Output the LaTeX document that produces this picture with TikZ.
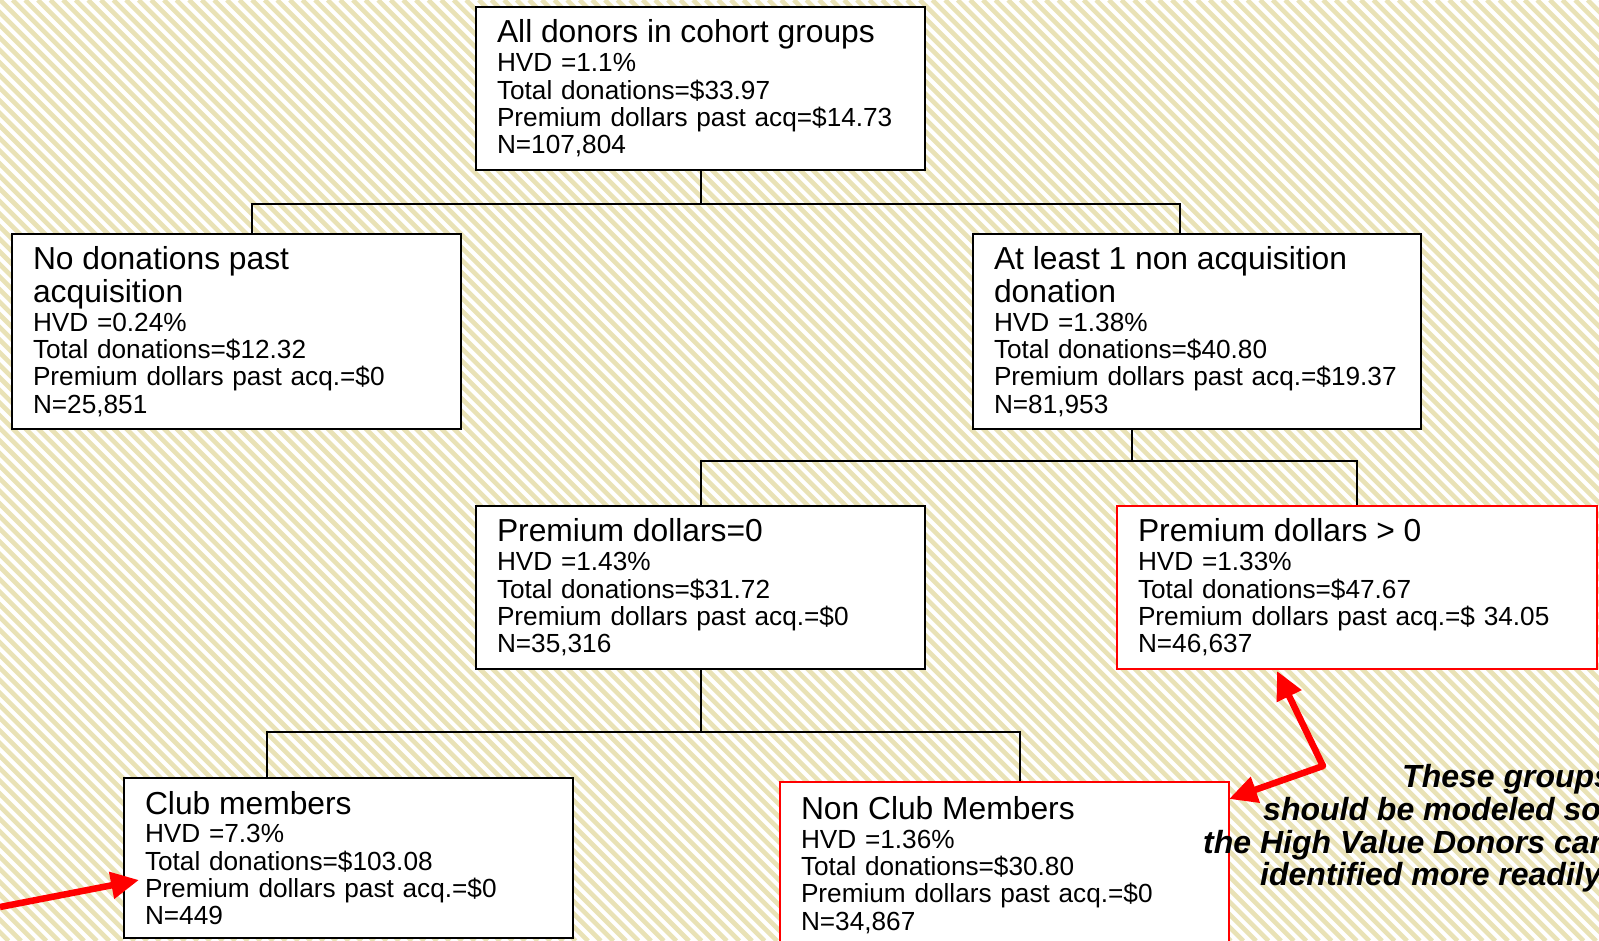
\documentclass[tikz,border=0pt]{standalone}
\usepackage{fontspec}
\setmainfont{Liberation Sans}
\usetikzlibrary{arrows.meta}
\definecolor{stripecol}{RGB}{233,226,182}
\newcommand\ttlfont{\fontsize{31.8}{33}\selectfont}
\newcommand\bdyfont{\fontsize{26.2}{27.3}\selectfont}
\begin{document}
\begin{tikzpicture}[x=1pt,y=-1pt,
  box/.style={draw=black, line width=2pt, fill=white, anchor=north west, align=left,
    inner xsep=21pt, inner ysep=0pt, font=\bdyfont},
  redbox/.style={box, draw=red},
  conn/.style={draw=black, line width=2pt},
  redarrow/.style={draw=red, line width=6.5pt, -{Triangle[length=28pt,width=26pt]}},
  hint/.style={anchor=base west, inner sep=0pt, font=\fontsize{32}{33}\selectfont\bfseries\itshape}
]
\useasboundingbox (0,0) rectangle (1599,941);
% background stripes
\begin{scope}
  \clip (0,0) rectangle (1599,941);
  \fill[white] (0,0) rectangle (1599,941);
  \foreach \i in {-76,...,128}
    \draw[stripecol, line width=4.6pt] (\i*12.6,0) -- (\i*12.6+941,941);
\end{scope}

% connector junction coordinates
\coordinate (j1) at (252,204);
\coordinate (j2) at (1180,204);
\coordinate (j3) at (1132,461);
\coordinate (j6) at (267,732);
\coordinate (j7) at (1020,732);

% boxes
\node[box, text width=407pt, minimum height=163pt] (top) at (475,6)
  {{\ttlfont All donors in cohort groups}\\[1.5pt]HVD =1.1\%\\Total donations=\$33.97\\\mbox{Premium dollars past acq=\$14.73}\\N=107,804};
\node[box, text width=407pt, minimum height=195pt] (left) at (11,233)
  {{\ttlfont No donations past}\\[2pt]{\ttlfont acquisition}\\[2pt]HVD =0.24\%\\Total donations=\$12.32\\\mbox{Premium dollars past acq.=\$0}\\N=25,851};
\node[box, text width=406pt, minimum height=195pt] (right) at (972,233)
  {{\ttlfont At least 1 non acquisition}\\[2pt]{\ttlfont donation}\\[2pt]HVD =1.38\%\\Total donations=\$40.80\\\mbox{Premium dollars past acq.=\$19.37}\\N=81,953};
\node[box, text width=407pt, minimum height=163pt] (mid) at (475,505)
  {{\ttlfont Premium dollars=0}\\[1.5pt]HVD =1.43\%\\Total donations=\$31.72\\\mbox{Premium dollars past acq.=\$0}\\N=35,316};
\node[redbox, text width=438pt, minimum height=163pt] (red) at (1116,505)
  {{\ttlfont Premium dollars > 0}\\[1.5pt]HVD =1.33\%\\Total donations=\$47.67\\\mbox{Premium dollars past acq.=\$ 34.05}\\N=46,637};
\node[box, text width=407pt, minimum height=160pt] (club) at (123,777)
  {{\ttlfont Club members}\\[1.5pt]HVD =7.3\%\\Total donations=\$103.08\\\mbox{Premium dollars past acq.=\$0}\\N=449};
\node[redbox, text width=407pt, minimum height=166pt] (nonclub) at (779,781)
  {{\ttlfont Non Club Members}\\[1.5pt]HVD =1.36\%\\Total donations=\$30.80\\\mbox{Premium dollars past acq.=\$0}\\N=34,867};

% connectors
\draw[conn] (top.south) -- (top.south |- j1);
\draw[conn] (j1 |- left.north) -- (j1) -- (j2) -- (j2 |- right.north);
\draw[conn] (j3 |- right.south) -- (j3);
\draw[conn] (mid.north) -- (mid.north |- j3) -- (red.north |- j3) -- (red.north);
\draw[conn] (mid.south) -- (mid.south |- j6);
\draw[conn] (j6 |- club.north) -- (j6) -- (j7) -- (j7 |- nonclub.north);

% red arrows
\coordinate (elbow) at (1323,766);
\coordinate (tipA) at (1277,671);
\coordinate (tipB) at (1229,799);
\coordinate (tailL) at (0,907);
\coordinate (tipL) at (139,880);
\draw[redarrow] (elbow) -- (tipA);
\draw[redarrow] (elbow) -- (tipB);
\fill[red] (elbow) circle[radius=3.2pt];
\draw[redarrow] (tailL) -- (tipL);

% note text
\node[hint] (n1) at (1402,787) {These groups};
\node[hint] (n2) at (1263,820) {should be modeled so};
\node[hint] (n3) at (1203,853) {the High Value Donors can};
\node[hint] (n4) at (1260,885) {identified more readily};
\end{tikzpicture}
\end{document}
